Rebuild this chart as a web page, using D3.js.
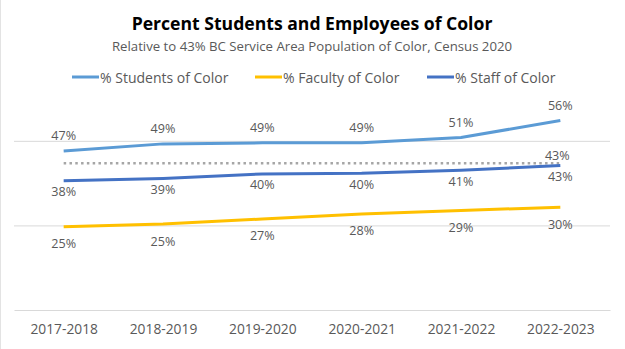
<!DOCTYPE html>
<html>
<head>
<meta charset="utf-8">
<script src="https://cdn.jsdelivr.net/npm/d3@7"></script>
<style>
  body { margin: 0; background: #fff; }
  text { font-family: "Open Sans", sans-serif; }
</style>
</head>
<body>
<svg id="chart" width="625" height="349"></svg>
<script>
const svg = d3.select("#chart");

// school years on the x axis
const years = ["2017-2018", "2018-2019", "2019-2020", "2020-2021", "2021-2022", "2022-2023"];

// percent of color, by group
const students = [47.0, 49.1, 49.4, 49.4, 51.0, 56.0];
const faculty = [24.6, 25.4, 26.9, 28.4, 29.4, 30.4];
const staff = [38.2, 38.9, 40.2, 40.4, 41.3, 42.7];
const population = [43.4, 43.4, 43.4, 43.4, 43.4, 43.4];

const gridValues = [25, 50];

const series = [
  { name: "% Students of Color", values: students, color: "#5b9bd5", labelDy: -15 },
  { name: "% Faculty of Color", values: faculty, color: "#ffc000", labelDy: 17 },
  { name: "% Staff of Color", values: staff, color: "#4472c4", labelDy: 11 }
];

const x = d3.scalePoint().domain(years).range([14, 610]).padding(0.5);
const y = d3.scaleLinear().domain([0, 60]).range([310, 107]);

const textGray = "#595959";

// faint chart border on the left
svg.append("line")
  .attr("x1", 0.5).attr("x2", 0.5)
  .attr("y1", 0).attr("y2", 349)
  .attr("stroke", "#e3e3e3");

// title block
svg.append("text")
  .attr("x", 312).attr("y", 30)
  .attr("text-anchor", "middle")
  .style("font-size", "17.6px")
  .style("font-weight", "bold")
  .attr("fill", "#000")
  .text("Percent Students and Employees of Color");

svg.append("text")
  .attr("x", 312).attr("y", 50.5)
  .attr("text-anchor", "middle")
  .style("font-size", "13.2px")
  .attr("fill", textGray)
  .text("Relative to 43% BC Service Area Population of Color, Census 2020");

// legend
const legendX = [72, 255, 427];
const legend = svg.append("g");
series.forEach((s, i) => {
  legend.append("line")
    .attr("x1", legendX[i]).attr("x2", legendX[i] + 27)
    .attr("y1", 77).attr("y2", 77)
    .attr("stroke", s.color)
    .attr("stroke-width", 3);
  legend.append("text")
    .attr("x", legendX[i] + 28).attr("y", 77)
    .attr("dominant-baseline", "central")
    .style("font-size", "14px")
    .attr("fill", textGray)
    .text(s.name);
});

// gridlines
svg.append("g")
  .attr("transform", "translate(14,0)")
  .call(d3.axisLeft(y).tickValues(gridValues).tickSize(-596).tickFormat(""))
  .call(g => g.select(".domain").remove())
  .call(g => g.selectAll(".tick line").attr("stroke", "#d9d9d9"));

// category axis
svg.append("g")
  .attr("transform", `translate(0,${y(0)})`)
  .call(d3.axisBottom(x).tickSize(0).tickPadding(14))
  .call(g => g.select(".domain").attr("stroke", "#d9d9d9"))
  .call(g => g.selectAll(".tick text")
    .style("font-size", "13.8px")
    .style("font-family", "Open Sans, sans-serif")
    .attr("fill", textGray));

const line = d3.line()
  .x((d, i) => x(years[i]))
  .y(d => y(d));

// census reference line
svg.append("path")
  .datum(population)
  .attr("d", line)
  .attr("fill", "none")
  .attr("stroke", "#a6a6a6")
  .attr("stroke-width", 2.5)
  .attr("stroke-dasharray", "2.5,3.3");

svg.append("text")
  .attr("x", x(years[5]) - 3)
  .attr("y", y(population[5]) - 8)
  .attr("text-anchor", "middle")
  .attr("dominant-baseline", "central")
  .style("font-size", "12.6px")
  .attr("fill", textGray)
  .text(Math.round(population[5]) + "%");

series.forEach(s => {
  svg.append("path")
    .datum(s.values)
    .attr("d", line)
    .attr("fill", "none")
    .attr("stroke", s.color)
    .attr("stroke-width", 3)
    .attr("stroke-linejoin", "round");

  svg.append("g")
    .selectAll("text")
    .data(s.values)
    .join("text")
    .attr("x", (d, i) => x(years[i]))
    .attr("y", d => y(d) + s.labelDy)
    .attr("text-anchor", "middle")
    .attr("dominant-baseline", "central")
    .style("font-size", "12.6px")
    .attr("fill", textGray)
    .text(d => Math.round(d) + "%");
});
</script>
</body>
</html>
